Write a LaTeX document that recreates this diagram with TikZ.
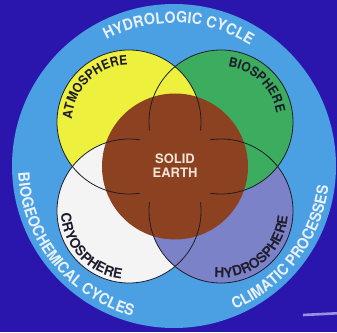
\documentclass[tikz,border=0pt]{standalone}
\usepackage{fontspec}
\setmainfont{TeX Gyre Heros}
\newfontfamily\ringfont{TeX Gyre Heros}[FakeStretch=0.93]
\newfontfamily\labelfont{TeX Gyre Heros}[FakeStretch=0.94]
\newfontfamily\widelabelfont{TeX Gyre Heros}
\usetikzlibrary{decorations.text}
\definecolor{bgblue}{RGB}{42,22,172}
\definecolor{ringblue}{RGB}{74,160,226}
\definecolor{ayellow}{RGB}{238,240,62}
\definecolor{bgreen}{RGB}{60,172,95}
\definecolor{cwhite}{RGB}{244,244,244}
\definecolor{hpurple}{RGB}{124,130,200}
\definecolor{sbrown}{RGB}{140,66,32}
\definecolor{outline}{RGB}{30,30,40}
\definecolor{ringtxt}{RGB}{232,240,250}
\definecolor{labeldark}{RGB}{30,28,45}
\definecolor{earthtxt}{RGB}{242,228,214}
\definecolor{streak}{RGB}{150,145,225}
\begin{document}
\begin{tikzpicture}[x=1pt,y=1pt,
  outl/.style={draw=outline, line width=0.8pt},
  ringtext/.style={decorate, decoration={text along path, text align=center,
     text={|\ringfont\bfseries\fontsize{15.5}{17}\selectfont\color{ringtxt}|#1}}},
  innertext/.style={decorate, decoration={text along path, text align=center,
     text={|\labelfont\bfseries\fontsize{13}{14}\selectfont\color{labeldark}|#1}}},
  widetext/.style={decorate, decoration={text along path, text align=center,
     text={|\widelabelfont\bfseries\fontsize{13.8}{15}\selectfont\color{labeldark}|#1}}}]
\useasboundingbox (0,0) rectangle (337,332);
\fill[bgblue] (0,0) rectangle (337,332);
\coordinate (R) at (174,166);
\coordinate (O) at (175,165.5);
\coordinate (Y) at (129,210);
\coordinate (G) at (221,210);
\coordinate (W) at (129,121);
\coordinate (P) at (221,121);
\fill[ringblue] (R) circle[radius=162];
\fill[hpurple] (P) circle[radius=72];
\fill[bgreen] (G) circle[radius=72];
\fill[ayellow] (Y) circle[radius=72];
\fill[cwhite] (W) circle[radius=72];
\begin{scope}
  \clip (W) circle[radius=72];
  \fill[hpurple] (P) circle[radius=72];
\end{scope}
\fill[sbrown] (O) circle[radius=73];
\draw[outl] (Y) circle[radius=72];
\draw[outl] (G) circle[radius=72];
\draw[outl] (W) circle[radius=72];
\draw[outl] (P) circle[radius=72];
\fill[sbrown] (O) circle[radius=44];
\node[align=center, font=\bfseries\fontsize{13}{14}\selectfont, text=earthtxt] (se) at (175,166) {SOLID\\EARTH};
% ring texts
\path[ringtext={HYDROLOGIC CYCLE}] ([shift={(150:143)}]R) arc[start angle=150, end angle=26, radius=143];
\path[ringtext={BIOGEOCHEMICAL CYCLES}] ([shift={(160:156)}]R) arc[start angle=160, end angle=277, radius=156];
\path[ringtext={CLIMATIC PROCESSES}] ([shift={(275:156)}]R) arc[start angle=275, end angle=370.4, radius=156];
% inner labels
\path[innertext={ATMOSPHERE}] ([shift={(194.5:57)}]Y) arc[start angle=194.5, end angle=74.5, radius=57];
\path[innertext={BIOSPHERE}] ([shift={(106:56)}]G) arc[start angle=106, end angle=-14, radius=56];
\path[widetext={CRYOSPHERE}] ([shift={(163:68)}]W) arc[start angle=163, end angle=283, radius=68];
\path[widetext={HYDROSPHERE}] ([shift={(250:67)}]P) arc[start angle=250, end angle=370, radius=67];
% streak
\coordinate (s1) at (303,17);
\coordinate (s2) at (337,18.7);
\draw[streak, line width=2.6pt] (s1) -- (s2);
\end{tikzpicture}
\end{document}
